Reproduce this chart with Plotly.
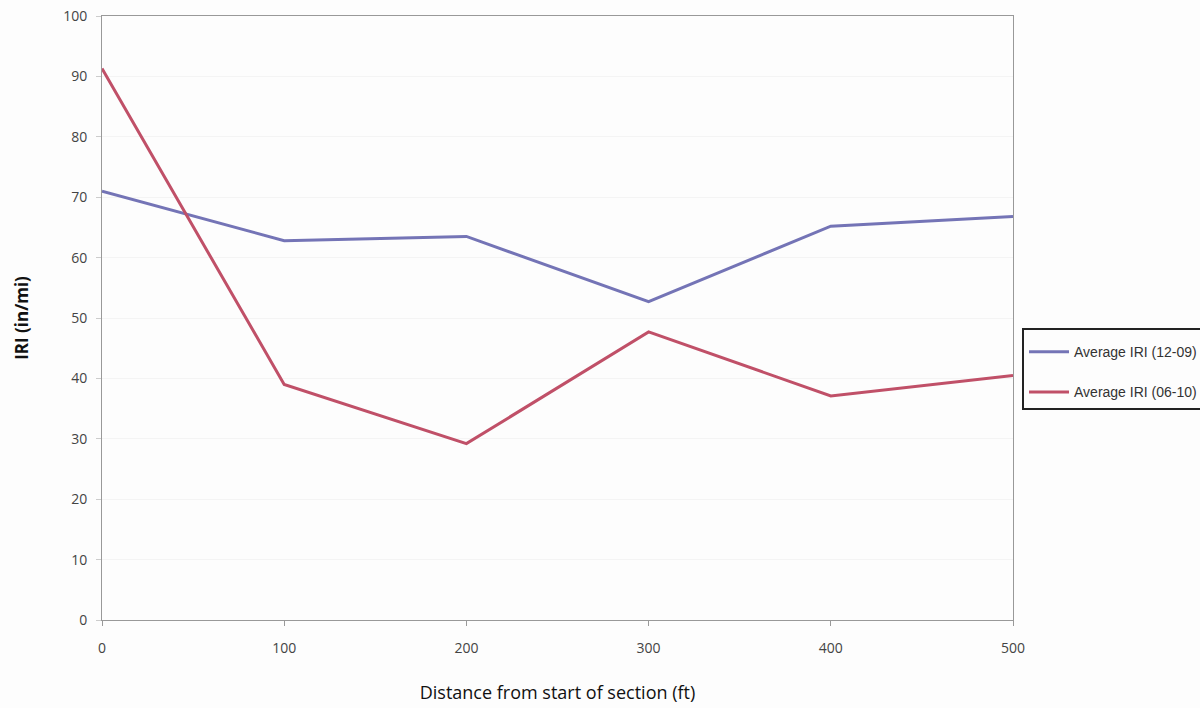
import plotly.graph_objects as go

distance = [0, 100, 200, 300, 400, 500]
iri_12_09 = [71.0, 62.8, 63.5, 52.7, 65.2, 66.8]
iri_06_10 = [91.3, 39.0, 29.2, 47.7, 37.1, 40.5]
series_names = ["Average IRI (12-09)", "Average IRI (06-10)"]
y_ticks = list(range(0, 101, 10))
x_ticks = [0, 100, 200, 300, 400, 500]

fig = go.Figure()
fig.add_trace(go.Scatter(x=distance, y=iri_12_09, mode="lines", name=series_names[0],
                         legendgroup="a", line=dict(color="#7474b6", width=3)))
fig.add_trace(go.Scatter(x=distance, y=iri_06_10, mode="lines", name=series_names[1],
                         legendgroup="b", line=dict(color="#c05068", width=3)))

fig.update_layout(
    width=1200, height=708,
    margin=dict(l=102, r=187, t=16, b=88, autoexpand=False),
    paper_bgcolor="#fdfdfd", plot_bgcolor="#fdfdfd",
    font=dict(family="Open Sans, Lato, sans-serif", color="#444"),
    showlegend=True,
    legend=dict(x=1.0099, y=0.484, xanchor="left", yanchor="top",
                bordercolor="#222", borderwidth=2, bgcolor="#fdfdfd",
                title=dict(text=" ", font=dict(size=5)),
                font=dict(family="Liberation Sans, Arial, sans-serif", size=14, color="#333"),
                tracegroupgap=19, itemwidth=40),
)
fig.update_xaxes(range=[0, 500], tickvals=x_ticks, ticks="outside", ticklen=5, tickcolor="#999",
                 showline=True, linecolor="#999", linewidth=1, mirror=True, showgrid=False,
                 zeroline=False, tickfont=dict(size=14, color="#444"), automargin=False,
                 ticklabelstandoff=10,
                 title=dict(text="Distance from start of section (ft)", font=dict(size=18, color="#111"), standoff=30))
fig.update_yaxes(range=[0, 100], tickvals=y_ticks, ticks="outside", ticklen=5, tickcolor="#ccc",
                 showline=True, linecolor="#999", linewidth=1, mirror=True, showgrid=True, gridcolor="#f4f4f4",
                 zeroline=False, tickfont=dict(size=14, color="#444"), automargin=False,
                 ticklabelstandoff=6,
                 title=dict(text="<b>IRI (in/mi)</b>", font=dict(size=17, color="#111"), standoff=30))
fig.write_html("out.html", config={"displayModeBar": False},
               post_script="document.body.style.margin='0';")
